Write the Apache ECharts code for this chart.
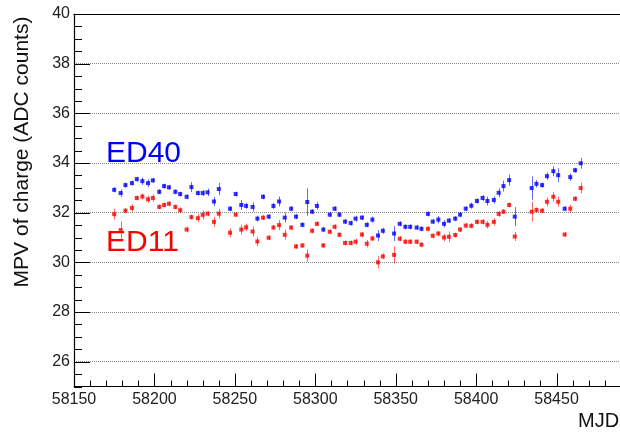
<!DOCTYPE html>
<html>
<head>
<meta charset="utf-8">
<title>MPV of charge vs MJD</title>
<script src="https://cdn.jsdelivr.net/npm/echarts@6/dist/echarts.min.js"></script>
<style>
  html, body { margin: 0; padding: 0; background: #fff; }
  #chart { width: 620px; height: 433px; }
</style>
</head>
<body>
<div id="chart"></div>
<script>
// Observation dates (MJD), shared by both detectors
const mjd = [
  58175, 58179, 58182, 58186, 58189, 58192.5, 58196, 58199, 58203, 58206,
  58209, 58213, 58216, 58220, 58223, 58227, 58230, 58233, 58237, 58240,
  58247, 58250.5, 58254, 58257, 58261, 58264, 58267.5, 58271, 58274, 58277.5,
  58281, 58285, 58288, 58292, 58295, 58298, 58301, 58305, 58309, 58312,
  58315, 58318.5, 58322, 58325, 58329, 58332, 58335.5, 58339, 58342, 58349,
  58352.5, 58356, 58359, 58363, 58366, 58370, 58373, 58376.5, 58380, 58383,
  58387, 58390, 58393.5, 58397, 58400.5, 58404, 58407, 58411, 58414, 58417,
  58420.5, 58424, 58434.5, 58437.5, 58441, 58444, 58448, 58451, 58455, 58458.5,
  58461.5, 58465
];

// ED40: most probable value of charge (ADC counts) and its uncertainty
const ed40 = [
  32.92, 32.79, 33.11, 33.19, 33.35, 33.27, 33.19, 33.30, 32.84, 33.07,
  33.02, 32.84, 32.75, 32.64, 33.03, 32.79, 32.79, 32.82, 32.45, 32.95,
  32.16, 32.75, 32.31, 32.27, 32.23, 31.76, 32.64, 31.84, 32.27, 32.45,
  31.80, 32.16, 31.84, 31.51, 32.43, 32.04, 32.27, 31.32, 31.92, 32.16,
  31.92, 31.64, 31.58, 31.76, 31.80, 31.51, 31.72, 31.08, 31.27, 31.16,
  31.55, 31.43, 31.43, 31.40, 31.35, 31.95, 31.64, 31.72, 31.55, 31.68,
  31.76, 31.92, 32.16, 32.28, 32.47, 32.59, 32.47, 32.51, 32.80, 33.07,
  33.31, 31.84, 32.99, 33.16, 33.11, 33.47, 33.67, 33.51, 32.16, 33.43,
  33.71, 33.99
];
const ed40Err = [
  0.10, 0.15, 0.10, 0.10, 0.10, 0.15, 0.15, 0.10, 0.10, 0.10,
  0.10, 0.10, 0.10, 0.10, 0.20, 0.10, 0.12, 0.15, 0.18, 0.25,
  0.10, 0.10, 0.20, 0.12, 0.18, 0.12, 0.10, 0.10, 0.12, 0.20,
  0.20, 0.10, 0.10, 0.10, 0.55, 0.10, 0.15, 0.10, 0.10, 0.10,
  0.10, 0.10, 0.10, 0.12, 0.10, 0.10, 0.12, 0.22, 0.12, 0.30,
  0.10, 0.10, 0.10, 0.10, 0.10, 0.10, 0.10, 0.15, 0.15, 0.10,
  0.10, 0.10, 0.10, 0.12, 0.10, 0.12, 0.18, 0.15, 0.18, 0.22,
  0.22, 0.38, 0.47, 0.15, 0.10, 0.15, 0.20, 0.28, 0.10, 0.15,
  0.10, 0.22
];

// ED11: most probable value of charge (ADC counts) and its uncertainty
const ed11 = [
  31.94, 31.30, 32.08, 32.19, 32.59, 32.65, 32.54, 32.59, 32.23, 32.31,
  32.36, 32.23, 32.10, 31.32, 31.82, 31.78, 31.91, 31.96, 31.63, 31.96,
  31.19, 31.92, 31.32, 31.41, 31.24, 30.84, 31.80, 30.99, 31.40, 31.50,
  31.11, 31.40, 30.64, 30.68, 30.27, 31.27, 31.55, 30.68, 31.23, 31.43,
  31.11, 30.78, 30.78, 30.83, 31.12, 30.75, 30.96, 30.00, 30.24, 30.30,
  30.95, 30.83, 30.83, 30.83, 30.71, 31.35, 31.07, 31.16, 31.00, 31.03,
  31.10, 31.32, 31.48, 31.47, 31.63, 31.63, 31.51, 31.63, 31.95, 32.04,
  32.31, 31.04, 32.04, 32.11, 32.08, 32.44, 32.64, 32.44, 31.12, 32.16,
  32.56, 32.99
];
const ed11Err = [
  0.22, 0.35, 0.10, 0.15, 0.10, 0.12, 0.15, 0.15, 0.10, 0.10,
  0.10, 0.10, 0.12, 0.12, 0.10, 0.15, 0.18, 0.10, 0.20, 0.20,
  0.18, 0.10, 0.20, 0.15, 0.20, 0.18, 0.10, 0.10, 0.10, 0.20,
  0.20, 0.10, 0.10, 0.10, 0.25, 0.10, 0.10, 0.10, 0.10, 0.10,
  0.10, 0.10, 0.10, 0.12, 0.10, 0.15, 0.10, 0.25, 0.12, 0.35,
  0.10, 0.10, 0.10, 0.10, 0.10, 0.10, 0.10, 0.10, 0.15, 0.22,
  0.10, 0.10, 0.10, 0.10, 0.10, 0.10, 0.15, 0.15, 0.12, 0.10,
  0.10, 0.18, 0.40, 0.10, 0.10, 0.18, 0.20, 0.20, 0.10, 0.15,
  0.10, 0.22
];

// Axis ranges and tick positions
const X_MIN = 58150, X_MAX = 58500;
const Y_MIN = 25, Y_MAX = 40;
const xMajorTicks = [58150, 58200, 58250, 58300, 58350, 58400, 58450, 58500];
const yMajorTicks = [26, 28, 30, 32, 34, 36, 38, 40];
const xMinorStep = 10;   // days between minor ticks
const yMinorStep = 0.5;  // ADC counts between minor ticks

const FONT = '"Liberation Sans", Arial, Helvetica, sans-serif';
const BLUE = '#0000ff';
const RED = '#ff0000';
const INK = '#000000';

const points = (vals, errs) => mjd.map((x, i) => [x, vals[i], errs[i]]);

// tick marks: [x, y, direction (0: rises from the bottom axis, 1: goes right from the left axis), length]
const tickMarks = [];
for (let v = X_MIN; v <= X_MAX + 1e-9; v += xMinorStep) {
  tickMarks.push([v, Y_MIN, 0, xMajorTicks.includes(v) ? 13 : 6]);
}
for (let v = Y_MIN; v <= Y_MAX + 1e-9; v += yMinorStep) {
  tickMarks.push([X_MIN, v, 1, yMajorTicks.includes(v) ? 16 : 8]);
}

function renderTick(params, api) {
  const p = api.coord([api.value(0), api.value(1)]);
  const dir = api.value(2), len = api.value(3);
  if (dir === 0) {
    const x = Math.round(p[0]) + 0.5;
    return { type: 'line', shape: { x1: x, y1: p[1], x2: x, y2: p[1] - len }, style: { stroke: INK, lineWidth: 1 } };
  }
  const y = Math.round(p[1]) + 0.5;
  return { type: 'line', shape: { x1: p[0], y1: y, x2: p[0] + len, y2: y }, style: { stroke: INK, lineWidth: 1 } };
}

function errorBar(color) {
  return function (params, api) {
    const x = api.value(0), y = api.value(1), e = api.value(2);
    const hi = api.coord([x, y + e]);
    const lo = api.coord([x, y - e]);
    const cx = Math.round(hi[0]) + 0.5;
    return {
      type: 'line',
      shape: { x1: cx, y1: hi[1], x2: cx, y2: lo[1] },
      style: { stroke: color, lineWidth: 1, opacity: 0.6 }
    };
  };
}

const chart = echarts.init(document.getElementById('chart'), null, { renderer: 'canvas' });

chart.setOption({
  animation: false,
  backgroundColor: '#ffffff',
  grid: { left: 74, top: 14, right: -17, bottom: 46.5, outerBoundsMode: 'none', containLabel: false },
  xAxis: [
    {
      type: 'value', position: 'bottom',
      min: X_MIN, max: X_MAX, interval: 50,
      axisLine: { show: true, onZero: false, lineStyle: { color: INK, width: 1.2 } },
      axisTick: { show: false },
      axisLabel: {
        show: true, margin: 5, showMaxLabel: false,
        formatter: (v) => String(v),
        fontFamily: FONT, fontSize: 16, color: '#222'
      },
      splitLine: { show: false }
    },
    {
      // top frame line
      type: 'value', position: 'top',
      min: X_MIN, max: X_MAX, interval: 50,
      axisLine: { show: true, onZero: false, lineStyle: { color: INK, width: 1.2 } },
      axisTick: { show: false },
      axisLabel: { show: false },
      splitLine: { show: false }
    }
  ],
  yAxis: {
    type: 'value', position: 'left',
    min: Y_MIN, max: Y_MAX, interval: 0.5,
    axisLine: { show: true, onZero: false, lineStyle: { color: INK, width: 1.2 } },
    axisTick: { show: false, customValues: yMajorTicks },
    axisLabel: {
      show: true, customValues: yMajorTicks, margin: 4,
      fontFamily: FONT, fontSize: 16, color: '#222'
    },
    splitLine: { show: true, lineStyle: { color: '#888', width: 1, type: [1, 1] } }
  },
  series: [
    {
      name: 'ticks', type: 'custom', xAxisIndex: 0, yAxisIndex: 0,
      renderItem: renderTick, encode: { x: 0, y: 1 },
      data: tickMarks, silent: true, clip: false, z: 1
    },
    {
      name: 'ED40 err', type: 'custom', xAxisIndex: 0, yAxisIndex: 0,
      renderItem: errorBar(BLUE), encode: { x: 0, y: 1 },
      data: points(ed40, ed40Err), silent: true, z: 2
    },
    {
      name: 'ED11 err', type: 'custom', xAxisIndex: 0, yAxisIndex: 0,
      renderItem: errorBar(RED), encode: { x: 0, y: 1 },
      data: points(ed11, ed11Err), silent: true, z: 2
    },
    {
      name: 'ED40', type: 'scatter', xAxisIndex: 0, yAxisIndex: 0,
      symbol: 'rect', symbolSize: 4,
      itemStyle: { color: BLUE },
      data: points(ed40, ed40Err), z: 3
    },
    {
      name: 'ED11', type: 'scatter', xAxisIndex: 0, yAxisIndex: 0,
      symbol: 'rect', symbolSize: 4,
      itemStyle: { color: RED },
      data: points(ed11, ed11Err), z: 3
    }
  ],
  graphic: [
    {
      type: 'text', x: 106, y: 153.5, z: 10,
      style: { text: 'ED40', fill: BLUE, font: '30px ' + FONT, textAlign: 'left', textVerticalAlign: 'middle' }
    },
    {
      type: 'text', x: 106, y: 242.5, z: 10,
      style: { text: 'ED11', fill: RED, font: '30px ' + FONT, textAlign: 'left', textVerticalAlign: 'middle' }
    },
    {
      type: 'text', x: 22.5, y: 152, rotation: Math.PI / 2, z: 10,
      style: { text: 'MPV of charge (ADC counts)', fill: '#111', font: '21px ' + FONT, textAlign: 'center', textVerticalAlign: 'middle' }
    },
    {
      type: 'text', x: 578, y: 421, z: 10,
      style: { text: 'MJD', fill: '#111', font: '20px ' + FONT, textAlign: 'left', textVerticalAlign: 'middle' }
    }
  ]
});
</script>
</body>
</html>
